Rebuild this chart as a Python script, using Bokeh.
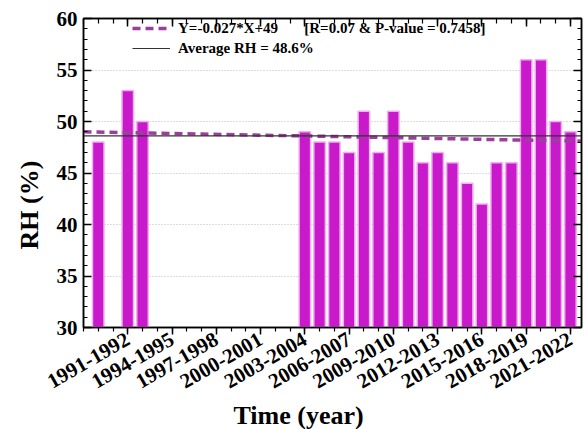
import math
from bokeh.plotting import figure
from bokeh.models import (LinearAxis, FixedTicker, Range1d, Legend, LegendItem, Title,
                          CustomLabelingPolicy)
from bokeh.embed import file_html
from bokeh.resources import INLINE

# ---- data ----
years = [1989, 1991, 1992, 2003, 2004, 2005, 2006, 2007, 2008, 2009, 2010,
         2011, 2012, 2013, 2014, 2015, 2016, 2017, 2018, 2019, 2020, 2021]
rh = [48, 53, 50, 49, 48, 48, 47, 51, 47, 51, 48,
      46, 47, 46, 44, 42, 46, 46, 56, 56, 50, 49]
tick_years = [1991, 1994, 1997, 2000, 2003, 2006, 2009, 2012, 2015, 2018, 2021]
tick_labels = ["1991-1992", "1994-1995", "1997-1998", "2000-2001", "2003-2004",
               "2006-2007", "2009-2010", "2012-2013", "2015-2016", "2018-2019",
               "2021-2022"]
minor_years = list(range(1988, 2022))
y_ticks = [30, 35, 40, 45, 50, 55, 60]
y_minor = list(range(30, 61))
avg_rh = 48.6
trend_slope = -0.027
trend_intercept = 49
trend_origin = 1988
x_start, x_end = 1988, 2021.75
y_start, y_end = 30, 60

FONT = "Liberation Serif"
BAR = "#C81ACA"
TREND = "#9B3F9E"

p = figure(width=584, height=429, x_range=Range1d(x_start, x_end),
           y_range=Range1d(y_start, y_end), output_backend="svg",
           toolbar_location=None, min_border_left=83, min_border_right=3,
           min_border_top=18, min_border_bottom=98)
p.xaxis.visible = False
p.yaxis.visible = False
p.xgrid.visible = False
p.ygrid.ticker = FixedTicker(ticks=y_ticks[1:-1])
p.ygrid.grid_line_color = "#BBBBBB"
p.ygrid.grid_line_dash = "1 2"
p.ygrid.grid_line_width = 1
p.outline_line_color = "black"
p.outline_line_width = 1.5
p.background_fill_color = "white"

xt = FixedTicker(ticks=tick_years, minor_ticks=minor_years)
yt = FixedTicker(ticks=y_ticks, minor_ticks=y_minor)

def style(ax):
    ax.axis_line_color = "black"
    ax.axis_line_width = 1.5
    ax.major_tick_line_color = "black"
    ax.minor_tick_line_color = "black"
    ax.major_tick_line_width = 1.5
    ax.minor_tick_line_width = 1.2
    ax.major_label_text_font = FONT
    ax.major_label_text_font_style = "bold"
    ax.major_label_text_font_size = "21px"
    ax.major_label_text_color = "black"

no_labels = CustomLabelingPolicy(code="""
const all = [...indices]
for (const i of all) indices.unset(i)
return indices
""")

bottom = LinearAxis(ticker=xt)
style(bottom)
bottom.major_label_overrides = {y: l for y, l in zip(tick_years, tick_labels)}
bottom.major_label_orientation = math.pi / 6
bottom.major_tick_in = 0
bottom.major_tick_out = 7
bottom.minor_tick_in = 0
bottom.minor_tick_out = 4
bottom.major_label_standoff = 3
p.add_layout(bottom, "below")

left = LinearAxis(ticker=yt)
style(left)
left.major_tick_in = 8
left.major_tick_out = 0
left.minor_tick_in = 4
left.minor_tick_out = 0
left.major_label_standoff = 6
p.add_layout(left, "left")

top = LinearAxis(ticker=xt)
style(top)
top.major_tick_in = 8
top.major_tick_out = 0
top.minor_tick_in = 5
top.minor_tick_out = 0
top.major_label_policy = no_labels
top.major_label_text_font_size = "0px"
top.major_label_standoff = 0
p.add_layout(top, "above")

right = LinearAxis(ticker=yt)
style(right)
right.major_tick_in = 8
right.major_tick_out = 0
right.minor_tick_in = 4
right.minor_tick_out = 0
right.major_label_policy = no_labels
right.major_label_text_font_size = "0px"
right.major_label_standoff = 0
p.add_layout(right, "right")

# bars
p.vbar(x=years, top=rh, bottom=y_start, width=0.78, fill_color=BAR,
       line_color="#F0B0F0", line_width=1.5)

# trend and average lines
line_x = [x_start, x_end]
trend_y = [trend_intercept + trend_slope * (x - trend_origin) for x in line_x]
r_trend = p.line(line_x, trend_y, line_color=TREND, line_width=3.5, line_dash="8 5")
r_avg = p.line(line_x, [avg_rh, avg_rh], line_color="#333333", line_width=1.2)

nb = "\u00a0"
legend = Legend(items=[
    LegendItem(label="Y=-0.027*X+49" + nb * 7 + "[R=0.07 & P-value = 0.7458]", renderers=[r_trend]),
    LegendItem(label="Average RH = 48.6%", renderers=[r_avg]),
], location=(49, 270))
legend.background_fill_alpha = 0
legend.border_line_alpha = 0
legend.label_text_font = FONT
legend.label_text_font_style = "bold"
legend.label_text_font_size = "15px"
legend.label_text_color = "black"
legend.glyph_width = 38
legend.glyph_height = 18
legend.label_height = 18
legend.spacing = 2
legend.padding = 0
legend.margin = 0
legend.label_standoff = 8
p.add_layout(legend, "center")

xt_title = Title(text="Time (year)", align="left", offset=150, text_font=FONT,
                 text_font_style="bold", text_font_size="26px", standoff=0,
                 text_color="black")
p.add_layout(xt_title, "below")
yt_title = Title(text="RH (%)", align="left", offset=78, text_font=FONT,
                 text_font_style="bold", text_font_size="26px", standoff=20,
                 text_color="black")
p.add_layout(yt_title, "left")

open("out.html", "w").write(file_html(p, INLINE))
